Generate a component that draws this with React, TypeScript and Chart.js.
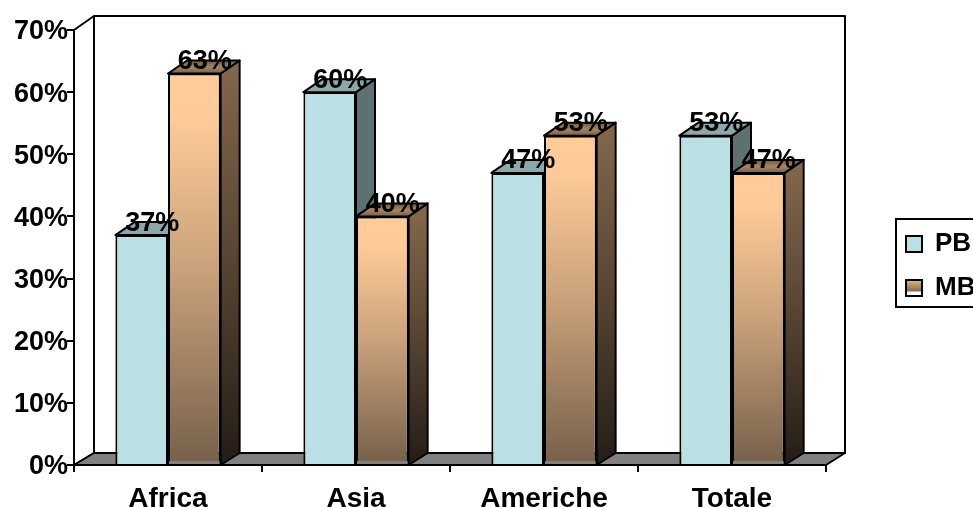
import { useEffect, useRef } from "react";
import { Chart, registerables } from "chart.js";

Chart.register(...registerables);

const categories = ["Africa", "Asia", "Americhe", "Totale"];
const pbValues = [37, 60, 47, 53];
const mbValues = [63, 40, 53, 47];
const yTicks = [0, 10, 20, 30, 40, 50, 60, 70];

const FONT = '"Liberation Sans", Arial, sans-serif';
const DEPTH_X = 19;
const DEPTH_Y = 13;

function face(ctx: CanvasRenderingContext2D, pts: number[][], fill: any, lw = 2) {
  ctx.beginPath();
  pts.forEach((p, i) => (i ? ctx.lineTo(p[0], p[1]) : ctx.moveTo(p[0], p[1])));
  ctx.closePath();
  ctx.fillStyle = fill;
  ctx.fill();
  ctx.lineWidth = lw;
  ctx.strokeStyle = "#000";
  ctx.lineJoin = "round";
  ctx.stroke();
}

function vGrad(ctx: CanvasRenderingContext2D, y0: number, y1: number, stops: [number, string][]) {
  const g = ctx.createLinearGradient(0, y0, 0, y1);
  stops.forEach(([o, c]) => g.addColorStop(o, c));
  return g;
}

// Side and top faces of one dataset's bars.
function drawFaces(chart: any, index: number) {
  const { ctx, scales } = chart;
  const isMb = index === 1;
  const zero = scales.y.getPixelForValue(0);
  ctx.save();
  chart.getDatasetMeta(index).data.forEach((el: any) => {
    const l = el.x - el.width / 2;
    const r = el.x + el.width / 2;
    const t = el.y;
    const side = isMb
      ? vGrad(ctx, t, zero, [[0, "#80664a"], [0.5, "#554331"], [1, "#241d16"]])
      : "#5e7172";
    const top = isMb
      ? vGrad(ctx, t - DEPTH_Y, t, [[0, "#6f573f"], [0.5, "#a58562"], [1, "#7a6048"]])
      : "#8ca8aa";
    face(ctx, [[r, t], [r + DEPTH_X, t - DEPTH_Y], [r + DEPTH_X, zero - 12], [r, zero]], side);
    face(ctx, [[l, t], [l + DEPTH_X, t - DEPTH_Y], [r + DEPTH_X, t - DEPTH_Y], [r, t]], top);
  });
  ctx.restore();
}

// Back wall and floor behind the bars, with the box drawn around the legend.
const stagePlugin = {
  id: "stage",
  beforeDatasetsDraw(chart: any) {
    const { ctx, chartArea: a } = chart;
    ctx.save();
    face(ctx, [
      [a.left, a.top],
      [a.left + 20, a.top - 14],
      [a.right + 19, a.top - 14],
      [a.right + 19, a.bottom - 12],
      [a.left + 20, a.bottom - 12],
      [a.left, a.bottom],
    ], "#fff");
    ctx.beginPath();
    ctx.moveTo(a.left + 20, a.top - 14);
    ctx.lineTo(a.left + 20, a.bottom - 12);
    ctx.lineWidth = 2;
    ctx.stroke();
    face(ctx, [
      [a.left, a.bottom],
      [a.left + 20, a.bottom - 12],
      [a.right + 19, a.bottom - 12],
      [a.right, a.bottom],
    ], "#808080");
    ctx.restore();
  },
  afterDraw(chart: any) {
    const { ctx } = chart;
    ctx.save();
    ctx.strokeStyle = "#000";
    ctx.lineWidth = 2;
    ctx.strokeRect(896, 219, 90, 88);
    ctx.restore();
  },
};

// The MB bars sit in front of the PB bars, so they are held back and painted
// once the PB series is finished. Each bar's depth faces go down first.
const depthPlugin = {
  id: "depth",
  beforeDatasetDraw(chart: any, args: any) {
    if (args.index === 1) return false;
    drawFaces(chart, 0);
    return true;
  },
  afterDatasetDraw(chart: any, args: any) {
    if (args.index !== 0) return;
    drawFaces(chart, 1);
    const meta = chart.getDatasetMeta(1);
    meta.controller.draw();
    // Thin grey band along the foot of the shaded bars.
    const { ctx, scales } = chart;
    const zero = scales.y.getPixelForValue(0);
    ctx.save();
    ctx.fillStyle = "#808080";
    meta.data.forEach((el: any) => {
      ctx.fillRect(el.x - el.width / 2 + 1, zero - 4, el.width - 2, 3);
    });
    ctx.restore();
  },
  afterDatasetsDraw(chart: any) {
    const { ctx, chartArea: a } = chart;
    ctx.save();
    ctx.strokeStyle = "#000";
    ctx.lineWidth = 2;
    ctx.beginPath();
    ctx.moveTo(a.left - 7, a.bottom);
    ctx.lineTo(a.right, a.bottom);
    ctx.stroke();
    ctx.fillStyle = "#000";
    ctx.font = `bold 27px ${FONT}`;
    ctx.textAlign = "center";
    ctx.textBaseline = "middle";
    chart.data.datasets.forEach((ds: any, i: number) => {
      chart.getDatasetMeta(i).data.forEach((el: any, j: number) => {
        ctx.fillText(`${ds.data[j]}%`, el.x + DEPTH_X / 2 + 1, el.y - 12);
      });
    });
    ctx.restore();
  },
};

// Places the legend beside the plot without taking room from it.
const legendPlacer = {
  id: "legendPlacer",
  afterLayout(chart: any) {
    const lg = chart.legend;
    lg.left = 888;
    lg.right = 1000;
    lg.top = 213;
    lg.bottom = 320;
  },
};

export default function App() {
  const ref = useRef<HTMLCanvasElement>(null);
  useEffect(() => {
    const chart = new Chart(ref.current!, {
      type: "bar",
      data: {
        labels: categories,
        datasets: [
          {
            label: "PB",
            data: pbValues,
            backgroundColor: "#bbe0e3",
            borderColor: "#000",
            borderWidth: 2,
          },
          {
            label: "MB",
            data: mbValues,
            backgroundColor: (c: any) => {
              const { chart: ch, dataIndex } = c;
              if (!ch.chartArea || dataIndex === undefined) return "#ffcc99";
              const y = ch.scales.y;
              return vGrad(ch.ctx, y.getPixelForValue(mbValues[dataIndex]), y.getPixelForValue(0), [
                [0, "#ffcc99"],
                [0.12, "#fdca98"],
                [0.5, "#c9a17a"],
                [1, "#76604a"],
              ]);
            },
            borderColor: "#000",
            borderWidth: 2,
          },
        ],
      },
      options: {
        animation: false,
        responsive: false,
        layout: { padding: { top: 30, right: 147, left: 0, bottom: 0 } },
        datasets: { bar: { categoryPercentage: 0.56, barPercentage: 1 } },
        scales: {
          x: {
            grid: { drawOnChartArea: false, color: "#000", lineWidth: 2, tickLength: 7 },
            border: { color: "#000", width: 2 },
            ticks: { color: "#000", font: { family: FONT, weight: "bold", size: 28 }, padding: 10, maxRotation: 0 },
            afterFit: (s: any) => { s.height = 42; },
          },
          y: {
            min: 0,
            max: 70,
            afterBuildTicks: (s: any) => { s.ticks = yTicks.map((value) => ({ value })); },
            grid: { drawOnChartArea: false, color: "#000", lineWidth: 2, tickLength: 7 },
            border: { color: "#000", width: 2 },
            ticks: {
              color: "#000",
              font: { family: FONT, weight: "bold", size: 27 },
              padding: -1,
              labelOffset: 2,
              callback: (v: any) => `${v}%`,
            },
            afterFit: (s: any) => { s.width = 74; },
          },
        },
        plugins: {
          tooltip: { enabled: false },
          title: { display: false },
          legend: {
            position: "chartArea",
            align: "start",
            labels: {
              color: "#000",
              font: { family: FONT, weight: "bold", size: 26 },
              boxWidth: 16,
              boxHeight: 16,
              padding: 18,
              generateLabels: (ch: any) => [
                { text: "PB", fillStyle: "#bbe0e3", strokeStyle: "#000", lineWidth: 2, datasetIndex: 0 },
                {
                  text: "MB",
                  fillStyle: vGrad(ch.ctx, 278, 297, [
                    [0, "#f5c595"],
                    [0.7, "#80694f"],
                    [0.72, "#ffffff"],
                    [1, "#ffffff"],
                  ]),
                  strokeStyle: "#000",
                  lineWidth: 2,
                  datasetIndex: 1,
                },
              ],
            },
          },
        },
      } as any,
      plugins: [stagePlugin, depthPlugin, legendPlacer],
    });
    return () => chart.destroy();
  }, []);
  return (
    <canvas
      ref={ref}
      width={973}
      height={507}
      style={{ position: "fixed", left: 0, top: 0, width: 973, height: 507, display: "block", background: "#fff" }}
    />
  );
}
